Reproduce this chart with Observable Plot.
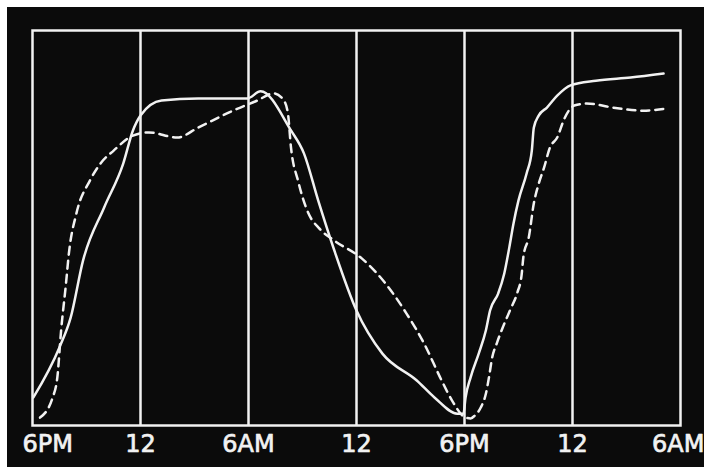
<!DOCTYPE html>
<html>
<head>
<meta charset="utf-8">
<script src="https://cdn.jsdelivr.net/npm/d3@7"></script>
<script src="https://cdn.jsdelivr.net/npm/@observablehq/plot@0.6"></script>
<style>
  html, body { margin: 0; padding: 0; background: #ffffff; width: 704px; height: 470px; overflow: hidden; }
  #chart { position: absolute; left: 7px; top: 7px; }
</style>
</head>
<body>
<div id="chart"></div>
<script>
// Hours elapsed since 6 PM of the first evening, and the tick labels
const tickHours = [0, 6, 12, 18, 24, 30, 36];
const tickLabels = ["6PM", "12", "6AM", "12", "6PM", "12", "6AM"];
const gridHours = [6, 12, 18, 24, 30];

// Solid curve (hours, relative level 0-100)
const solidHours = [0.05, 1.49, 2.12, 2.81, 3.98, 5.04, 5.58, 6.0, 7.17, 9.20, 11.94, 12.67, 14.36, 15.08, 15.87, 16.77, 18.0, 19.44, 21.35, 22.33, 23.60, 23.94,
  24.06, 24.34, 24.79, 25.19, 25.42, 25.87, 26.21, 26.49, 26.72, 27.00, 27.45, 27.74, 27.85, 28.13, 28.58, 29.15, 29.89, 31.30, 33.23, 35.06];
const solidValues = [7.1, 19.7, 27.3, 41.8, 55.2, 66.3, 74.7, 78.5, 82.3, 82.8, 82.8, 84.6, 74.7, 68.9, 57.0, 44.3, 29.1, 18.2, 11.4, 7.1, 3.0, 3.0,
  7.1, 12.2, 18.2, 24.1, 29.1, 33.4, 38.5, 45.1, 51.1, 57.0, 63.8, 69.6, 75.4, 78.5, 80.5, 83.5, 86.1, 87.3, 88.1, 89.1];

// Dashed curve (hours, relative level 0-100)
const dashedHours = [0.42, 1.12, 1.38, 1.59, 1.86, 2.02, 2.44, 3.19, 3.77, 4.51, 5.58, 6.47, 8.04, 9.20, 11.13, 12.50, 13.40, 13.96, 14.19, 14.36, 14.75, 15.31, 15.93, 16.77, 18.29, 19.62, 20.77, 21.75, 22.73, 23.31, 24.06, 24.34,
  24.57, 24.91, 25.19, 25.36, 25.53, 25.81, 26.15, 26.55, 26.94, 27.17, 27.28, 27.57, 27.85, 28.13, 28.42, 28.75, 29.15, 29.55, 30.10, 30.78, 32.50, 33.91, 35.32];
const dashedValues = [2.0, 7.1, 12.2, 24.1, 35.9, 43.5, 53.7, 62.0, 66.3, 69.6, 73.4, 74.2, 72.9, 75.4, 79.7, 82.3, 84.1, 82.3, 79.0, 70.4, 62.0, 53.9, 49.9, 46.8, 42.3, 35.9, 28.4, 20.8, 11.4, 6.3, 2.0, 1.8,
  2.5, 4.6, 8.1, 12.2, 17.0, 21.0, 25.1, 29.4, 33.7, 38.0, 43.0, 47.6, 56.2, 61.3, 65.3, 70.4, 72.9, 77.7, 81.0, 81.5, 80.3, 79.7, 80.3];

const solid = solidHours.map((h, i) => ({h, v: solidValues[i]}));
const dashed = dashedHours.map((h, i) => ({h, v: dashedValues[i]}));
const ticks = tickHours.map((h, i) => ({h, label: tickLabels[i]}));

const ink = "#f2f2f2";
const textStyle = {fill: ink, stroke: ink, strokeWidth: 0.7, fontSize: 24, fontFamily: "DejaVu Sans", frameAnchor: "bottom", lineAnchor: "middle", dy: 19};

const chart = Plot.plot({
  width: 697,
  height: 460,
  marginLeft: 25,
  marginRight: 24,
  marginTop: 23,
  marginBottom: 42,
  style: {background: "#0b0b0b", color: ink, overflow: "visible"},
  x: {domain: [0, 36], axis: null},
  y: {domain: [0, 100], axis: null},
  marks: [
    Plot.ruleX(gridHours, {stroke: ink, strokeWidth: 2.5}),
    Plot.frame({stroke: ink, strokeWidth: 2.5}),
    Plot.line(dashed, {x: "h", y: "v", stroke: ink, strokeWidth: 2.5, strokeDasharray: "8,6", curve: "monotone-x"}),
    Plot.line(solid, {x: "h", y: "v", stroke: ink, strokeWidth: 2.5, curve: "monotone-x"}),
    Plot.text(ticks.slice(0, 1), {x: "h", text: "label", textAnchor: "start", dx: -10, ...textStyle}),
    Plot.text(ticks.slice(1, 6), {x: "h", text: "label", ...textStyle}),
    Plot.text(ticks.slice(6), {x: "h", text: "label", textAnchor: "end", dx: 24, ...textStyle})
  ]
});
document.getElementById("chart").appendChild(chart);
</script>
</body>
</html>
